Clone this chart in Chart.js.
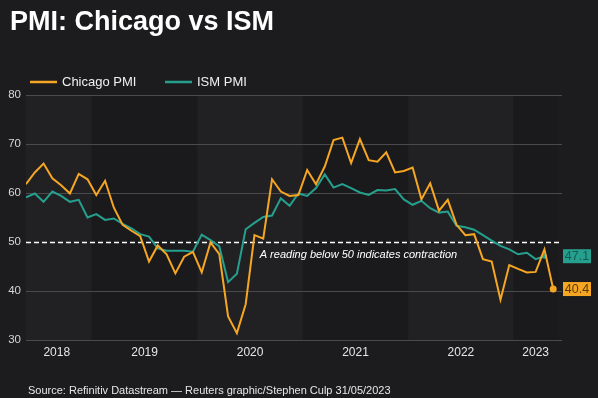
<!DOCTYPE html>
<html>
<head>
<meta charset="utf-8">
<title>PMI: Chicago vs ISM</title>
<script src="https://cdn.jsdelivr.net/npm/chart.js@4.4.0/dist/chart.umd.min.js"></script>
<style>
  html, body { margin: 0; padding: 0; background: #1c1c1e; }
  #wrap { width: 598px; height: 398px; }
</style>
</head>
<body>
<div id="wrap"><canvas id="chart" width="598" height="398"></canvas></div>
<script>
// monthly readings, May 2018 - May 2023
const months = [
  '2018-05','2018-06','2018-07','2018-08','2018-09','2018-10','2018-11','2018-12',
  '2019-01','2019-02','2019-03','2019-04','2019-05','2019-06','2019-07','2019-08','2019-09','2019-10','2019-11','2019-12',
  '2020-01','2020-02','2020-03','2020-04','2020-05','2020-06','2020-07','2020-08','2020-09','2020-10','2020-11','2020-12',
  '2021-01','2021-02','2021-03','2021-04','2021-05','2021-06','2021-07','2021-08','2021-09','2021-10','2021-11','2021-12',
  '2022-01','2022-02','2022-03','2022-04','2022-05','2022-06','2022-07','2022-08','2022-09','2022-10','2022-11','2022-12',
  '2023-01','2023-02','2023-03','2023-04','2023-05'
];

const chicagoPmi = [
  61.8, 64.2, 66.0, 63.0, 61.6, 59.9, 63.9, 62.8, 59.6, 62.5,
  57.0, 53.5, 52.3, 51.2, 46.0, 49.3, 47.5, 43.6, 47.0, 48.0,
  43.8, 49.9, 47.5, 34.8, 31.4, 37.3, 51.4, 50.7, 62.8, 60.3,
  59.4, 59.6, 64.7, 61.8, 65.4, 70.8, 71.3, 66.1, 71.0, 66.7,
  66.4, 68.3, 64.2, 64.5, 65.2, 58.7, 62.0, 56.4, 58.6, 53.5,
  51.4, 51.6, 46.5, 46.0, 38.2, 45.3, 44.5, 43.8, 43.9, 48.5,
  40.4
];

const ismPmi = [
  59.1, 59.9, 58.2, 60.3, 59.4, 58.2, 58.6, 55.0, 55.7, 54.5,
  54.8, 53.7, 52.8, 51.6, 51.1, 48.7, 48.2, 48.2, 48.2, 48.0,
  51.5, 50.4, 49.1, 41.8, 43.5, 52.6, 53.9, 55.1, 55.4, 58.9,
  57.4, 59.9, 59.4, 61.0, 63.8, 61.1, 61.8, 61.0, 60.1, 59.6,
  60.6, 60.5, 60.8, 58.7, 57.6, 58.4, 56.9, 56.0, 56.2, 53.3,
  53.0, 52.5, 51.4, 50.3, 49.2, 48.5, 47.5, 47.8, 46.5, 47.1
];

const yearLabels = ['2018', '2019', '2020', '2021', '2022', '2023'];
const yTicks = [30, 40, 50, 60, 70, 80];

const titleText = 'PMI: Chicago vs ISM';
const noteText = 'A reading below 50 indicates contraction';
const sourceText = 'Source: Refinitiv Datastream \u2014 Reuters graphic/Stephen Culp 31/05/2023';

const ORANGE = '#f5a623';
const TEAL = '#26a08e';
const FONT = "'Liberation Sans', Arial, sans-serif";
const X_MAX = 61;

// index range of every year, used for tick positions and the shaded bands
const yearSpans = yearLabels.map(y => {
  const idx = months.map((m, i) => m.startsWith(y) ? i : -1).filter(i => i >= 0);
  return { from: idx[0], to: idx[idx.length - 1] };
});
const yearCenters = yearSpans.map(s => (s.from + s.to) / 2);

const toPoints = arr => arr.map((v, i) => ({ x: i, y: v }));
const lastOnly = (n, r) => ctx => ctx.dataIndex === n - 1 ? r : 0;

const decor = {
  id: 'decor',
  beforeDraw(chart) {
    const { ctx, chartArea: a, scales: { x } } = chart;
    ctx.save();
    ctx.fillStyle = '#1c1c1e';
    ctx.fillRect(0, 0, chart.width, chart.height);
    yearSpans.forEach((s, i) => {
      const x0 = x.getPixelForValue(Math.max(0, s.from - 0.5));
      const x1 = x.getPixelForValue(Math.min(X_MAX, s.to + 0.5));
      ctx.fillStyle = i % 2 === 0 ? '#212123' : '#1a1a1c';
      ctx.fillRect(x0, a.top, x1 - x0, a.bottom - a.top);
    });
    ctx.restore();
  },
  beforeDatasetsDraw(chart) {
    const { ctx, chartArea: a, scales: { x, y } } = chart;
    const y50 = Math.round(y.getPixelForValue(50)) + 0.5;
    ctx.save();
    ctx.strokeStyle = '#ffffff';
    ctx.lineWidth = 1.5;
    ctx.setLineDash([5, 3]);
    ctx.beginPath();
    ctx.moveTo(a.left, y50);
    ctx.lineTo(a.right, y50);
    ctx.stroke();
    ctx.setLineDash([]);
    ctx.fillStyle = '#ffffff';
    ctx.font = 'italic 11px ' + FONT;
    ctx.textBaseline = 'middle';
    ctx.fillText(noteText, x.getPixelForValue(26.6), y.getPixelForValue(47.3));
    ctx.restore();
  },
  afterDraw(chart) {
    const { ctx, chartArea: a, scales: { y } } = chart;
    ctx.save();
    // title
    ctx.fillStyle = '#ffffff';
    ctx.font = 'bold 27px ' + FONT;
    ctx.textBaseline = 'alphabetic';
    ctx.fillText(titleText, 10, 30);
    // legend
    ctx.font = '13px ' + FONT;
    ctx.textBaseline = 'middle';
    let lx = 30;
    chart.data.datasets.forEach(ds => {
      ctx.strokeStyle = ds.borderColor;
      ctx.lineWidth = 2.5;
      ctx.beginPath();
      ctx.moveTo(lx, 82);
      ctx.lineTo(lx + 27, 82);
      ctx.stroke();
      ctx.fillStyle = '#f0f0f0';
      ctx.fillText(ds.label, lx + 32, 82);
      lx += 135;
    });
    // end value boxes
    const boxes = [
      { v: ismPmi[ismPmi.length - 1], bg: TEAL, fg: '#145a52' },
      { v: chicagoPmi[chicagoPmi.length - 1], bg: ORANGE, fg: '#5e3c06' }
    ];
    ctx.font = '12.5px ' + FONT;
    ctx.textAlign = 'center';
    boxes.forEach(b => {
      const cy = y.getPixelForValue(b.v);
      ctx.fillStyle = b.bg;
      ctx.fillRect(a.right + 1, cy - 7, 28, 14);
      ctx.fillStyle = b.fg;
      ctx.fillText(b.v.toFixed(1), a.right + 15, cy + 0.5);
    });
    // source line
    ctx.textAlign = 'left';
    ctx.fillStyle = '#e6e6e6';
    ctx.font = '11px ' + FONT;
    ctx.textBaseline = 'alphabetic';
    ctx.fillText(sourceText, 28, 394);
    ctx.restore();
  }
};

new Chart(document.getElementById('chart'), {
  type: 'line',
  data: {
    datasets: [
      {
        label: 'Chicago PMI',
        data: toPoints(chicagoPmi),
        borderColor: ORANGE,
        backgroundColor: ORANGE,
        borderWidth: 2,
        pointRadius: lastOnly(chicagoPmi.length, 3.5),
        pointBorderWidth: 0,
        tension: 0
      },
      {
        label: 'ISM PMI',
        data: toPoints(ismPmi),
        borderColor: TEAL,
        backgroundColor: TEAL,
        borderWidth: 2,
        pointRadius: lastOnly(ismPmi.length, 2.5),
        pointBorderWidth: 0,
        tension: 0
      }
    ]
  },
  options: {
    responsive: false,
    animation: false,
    layout: { padding: { top: 95, right: 36, bottom: 0, left: 0 } },
    plugins: {
      legend: { display: false },
      tooltip: { enabled: false }
    },
    scales: {
      x: {
        type: 'linear',
        min: 0,
        max: X_MAX,
        afterBuildTicks: scale => { scale.ticks = yearCenters.map(v => ({ value: v })); },
        afterFit: scale => { scale.height = 58; },
        grid: { display: false },
        border: { display: false },
        ticks: {
          autoSkip: false,
          maxRotation: 0,
          padding: -3,
          color: '#e6e6e6',
          font: { family: FONT, size: 12 },
          callback: (v, i) => yearLabels[i]
        }
      },
      y: {
        min: 30,
        max: 80,
        afterBuildTicks: scale => { scale.ticks = yTicks.map(v => ({ value: v })); },
        afterFit: scale => { scale.width = 26; },
        grid: {
          color: c => c.tick && c.tick.value === 50 ? 'rgba(0,0,0,0)' : '#4a4a4c',
          lineWidth: 1,
          drawTicks: false
        },
        border: { display: false },
        ticks: {
          padding: 5,
          color: '#d6d6d6',
          font: { family: FONT, size: 11.5 }
        }
      }
    }
  },
  plugins: [decor]
});
</script>
</body>
</html>
